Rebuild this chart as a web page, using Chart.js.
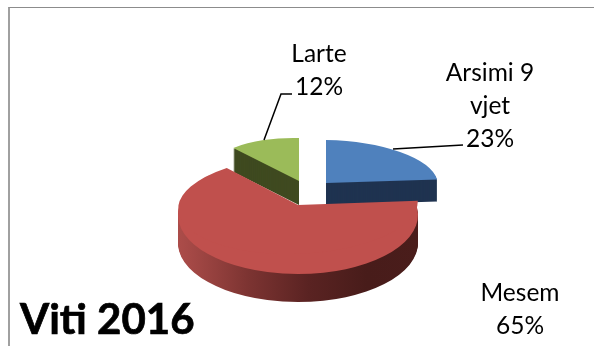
<!DOCTYPE html>
<html>
<head>
<meta charset="utf-8">
<style>
  html, body { margin: 0; padding: 0; background: #fff; }
  #wrap { position: relative; width: 594px; height: 346px; overflow: hidden; }
  #frame { position: absolute; left: 8px; top: 7px; width: 600px; height: 400px; box-sizing: border-box;
           border-left: 2px solid #a0a0a0; border-top: 1px solid #8c8c8c; }
  canvas { position: absolute; left: 0; top: 0; }
</style>
<script src="https://cdn.jsdelivr.net/npm/chart.js@4"></script>
</head>
<body>
<div id="wrap">
  <div id="frame"></div>
  <canvas id="pieChart" width="594" height="346"></canvas>
</div>
<script>
const categories = ['Arsimi 9 vjet', 'Mesem', 'Larte'];
const shares = [23, 65, 12];
const topColors = ['#4f81bd', '#c0504d', '#9bbb59'];
const sideColors = ['#1f3350', '#6b2c2a', '#3f4a20'];
const redSideStops = ['#ab4c49', '#7d3432', '#5a2322', '#481c1a', '#4a1d1b'];

// how each slice sits on the tilted plate: centre, the two axes of its disc, extrusion depth
const views = [
    [{ x: 326, y: 183, ax: [112, 2], ay: [0, -43], depth: 22 }],
    [{ x: 298, y: 215, ax: [120, 0], ay: [0, -59], turn: -5, depth: 28 },
     { x: 298, y: 205, ax: [119, 2], ay: [14, -49], depth: 0 }],
    [{ x: 299, y: 181, ax: [96, 2.5], ay: [0, -43], depth: 24 }]
];

const labelLines = [['Arsimi 9', 'vjet', '23%'], ['Mesem', '65%'], ['Larte', '12%']];
const labelSpots = [[490, 81], [520, 301], [319, 62]];
const leaders = [[[393, 149], [463, 145]], [], [[264, 140], [281, 94], [292, 94]]];

function useView(ctx, arc, v, drop) {
    const R = arc.outerRadius;
    ctx.translate(v.x, v.y + drop);
    ctx.transform(v.ax[0] / R, v.ax[1] / R, -v.ay[0] / R, -v.ay[1] / R, 0, 0);
    if (v.turn) ctx.rotate(v.turn * Math.PI / 180);
    ctx.translate(-arc.x, -arc.y);
}

function paint(ctx, arc, v, drop, fill) {
    const base = arc.options;
    ctx.save();
    useView(ctx, arc, v, drop);
    arc.options = Object.assign({}, base, { backgroundColor: fill, borderWidth: 0 });
    arc.draw(ctx);
    arc.options = base;
    ctx.restore();
}

// tilted pie with sides, built from the library's own arc elements
const tiltedPie = {
    id: 'tiltedPie',
    beforeDatasetsDraw(chart) {
        const ctx = chart.ctx;
        const arcs = chart.getDatasetMeta(0).data;

        [2, 0].forEach(i => {
            const v = views[i][0];
            for (let d = v.depth; d > 0; d--) paint(ctx, arcs[i], v, d, sideColors[i]);
        });
        [0, 2].forEach(i => paint(ctx, arcs[i], views[i][0], 0, topColors[i]));

        const red = arcs[1], v = views[1][0];
        const grad = ctx.createLinearGradient(red.x - red.outerRadius, 0, red.x + red.outerRadius, 0);
        redSideStops.forEach((c, n) => grad.addColorStop(n / (redSideStops.length - 1), c));
        for (let d = v.depth; d > 0; d--) paint(ctx, red, v, d, grad);
        views[1].forEach(part => paint(ctx, red, part, 0, topColors[1]));
        return false;
    },
    afterDraw(chart) {
        const ctx = chart.ctx;
        ctx.save();
        ctx.strokeStyle = '#000';
        ctx.lineWidth = 1.5;
        leaders.forEach(line => {
            if (!line.length) return;
            ctx.beginPath();
            line.forEach((p, n) => n ? ctx.lineTo(p[0], p[1]) : ctx.moveTo(p[0], p[1]));
            ctx.stroke();
        });

        ctx.fillStyle = '#000';
        ctx.textAlign = 'center';
        ctx.textBaseline = 'alphabetic';
        ctx.font = '24.5px Lato';
        labelLines.forEach((lines, i) => {
            lines.forEach((t, n) => ctx.fillText(t, labelSpots[i][0], labelSpots[i][1] + n * 33));
        });

        ctx.textAlign = 'left';
        ctx.font = 'bold 42px Lato';
        ctx.lineWidth = 0.7;
        ctx.fillText('Viti 2016', 20, 334);
        ctx.strokeText('Viti 2016', 20, 334);
        ctx.restore();
    }
};

new Chart(document.getElementById('pieChart'), {
    type: 'pie',
    data: {
        labels: categories,
        datasets: [{
            data: shares,
            backgroundColor: topColors,
            borderWidth: 0
        }]
    },
    options: {
        responsive: false,
        animation: false,
        plugins: { legend: { display: false }, tooltip: { enabled: false } }
    },
    plugins: [tiltedPie]
});
</script>
</body>
</html>
